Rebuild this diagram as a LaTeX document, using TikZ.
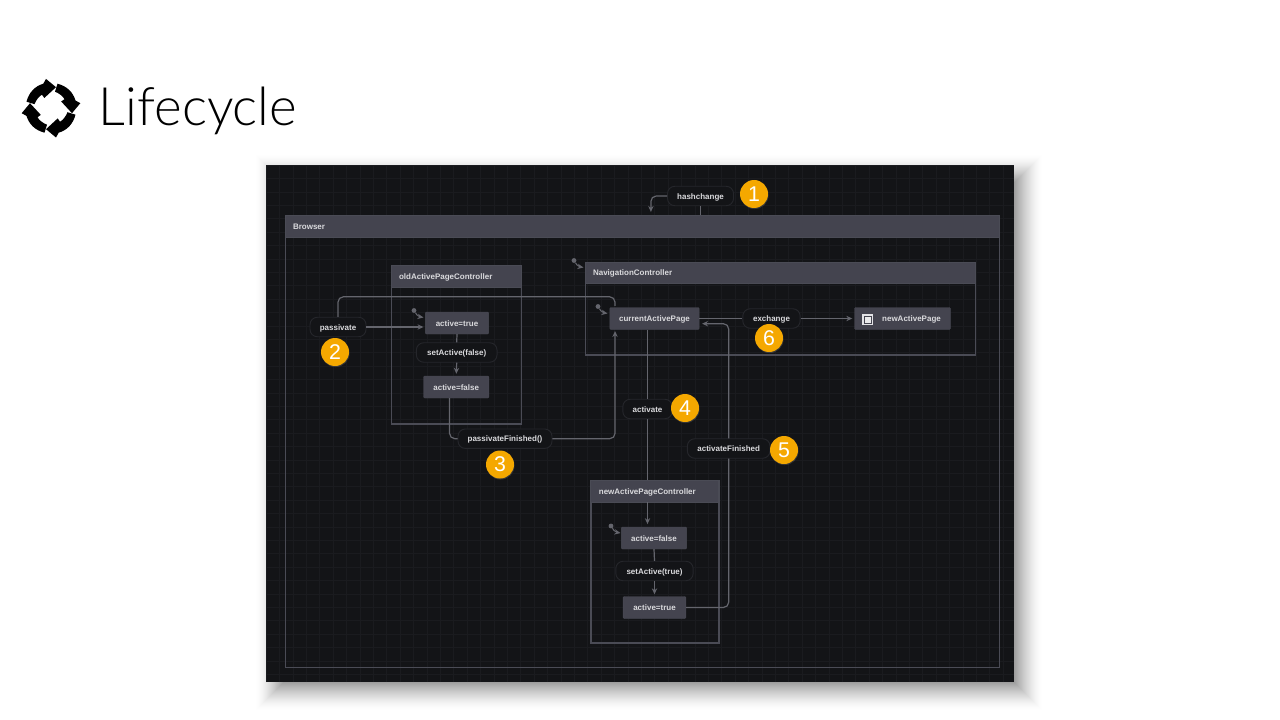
\documentclass[tikz,border=0pt]{standalone}
\usepackage{fontspec}
\setmainfont{Liberation Sans}
\newfontfamily\titlefont{Lato Light}
\usetikzlibrary{arrows.meta,shadows}
\definecolor{panel}{HTML}{131417}
\definecolor{gridc}{HTML}{1A1B1F}
\definecolor{headc}{HTML}{44444F}
\definecolor{edgec}{HTML}{4A4B55}
\definecolor{pillc}{HTML}{25262B}
\definecolor{wirec}{HTML}{64656D}
\definecolor{labelc}{HTML}{DADADD}
\definecolor{badgec}{HTML}{F5A800}

\begin{document}
\begin{tikzpicture}[
x=0.75pt,y=-0.75pt,
region/.style={draw=edgec, line width=0.8pt, inner sep=0pt},
head/.style={anchor=north west, fill=headc, draw=edgec, line width=0.6pt, font=\bfseries\fontsize{6}{7}\selectfont, text=labelc, inner xsep=6pt, inner ysep=0pt, align=left, text height=6pt, text depth=1.2pt},
box/.style={fill=headc, draw=edgec, line width=0.3pt, rounded corners=0.8pt, font=\bfseries\fontsize{6}{7}\selectfont, text=labelc, inner sep=0pt, minimum height=16.5pt, text height=6pt, text depth=1.2pt},
pill/.style={fill=panel, draw=pillc, line width=0.7pt, rounded corners=5.5pt, font=\bfseries\fontsize{6}{7}\selectfont, text=labelc, inner sep=0pt, minimum height=14.6pt, text height=6pt, text depth=1.2pt},
badge/.style={circle, fill=badgec, text=white, font=\fontsize{16}{18}\selectfont, inner sep=0pt, minimum size=21pt, drop shadow={shadow xshift=0.4pt, shadow yshift=-0.8pt, opacity=0.3}},
wire/.style={draw=wirec, line width=0.9pt, rounded corners=4pt},
arr/.style={-{Stealth[length=4.5pt,width=4pt]}},
dot/.style={circle, fill=wirec, inner sep=0pt, minimum size=3.6pt},
]
\useasboundingbox (0,0) rectangle (1280,720);

% title and icon
\node[anchor=west, inner sep=0pt, font=\titlefont\fontsize{39.7}{48}\selectfont] (title) at (98.5,111) {Lifecycle};
\foreach \ang in {0,90,180,270} {
  \fill[shift={(51,108.2)}, rotate=\ang] (-24.5,-6.5) .. controls (-22,-16) and (-16,-22) .. (-7.7,-24.5) -- (-5,-29.3) -- (5,-21) -- (-6.7,-10.2) -- (-9,-13.5) .. controls (-12,-12) and (-15,-8) .. (-16.5,-4) -- cycle;
}

% panel
\foreach \i in {0,...,35} {
  \pgfmathsetmacro\op{0.003+0.001*\i}
  \fill[black, opacity=\op] (256+\i,155+\i) rectangle (1042-\i,710-\i);
}
\fill[panel] (266,165) rectangle (1014,682);
\draw[gridc, line width=0.4pt, shift={(266,165)}, xstep=10.05pt, ystep=10.05pt] (0,0) grid (748,517);

% states
\node[region, minimum width=536pt, minimum height=339.5pt] (browser) at (642.5,441.5) {};
\node[head, minimum height=16.5pt, text width=524pt] (browserhead) at (browser.north west) {Browser};
\node[region, minimum width=98pt, minimum height=118.5pt] (oldctrl) at (456.5,345) {};
\node[head, minimum height=15.8pt, text width=86pt] (oldhead) at (oldctrl.north west) {oldActivePageController};
\node[region, minimum width=293pt, minimum height=69.7pt] (navctrl) at (780.5,308.5) {};
\node[head, minimum height=15.8pt, text width=281pt] (navhead) at (navctrl.north west) {NavigationController};
\node[region, minimum width=96pt, minimum height=121.5pt] (newctrl) at (655,562) {};
\node[head, minimum height=15.8pt, text width=84pt] (newhead) at (newctrl.north west) {newActivePageController};

\node[box, minimum width=47.5pt] (oldtrue) at (457,323) {active=true};
\node[box, minimum width=49pt] (oldfalse) at (456.2,387) {active=false};
\node[box, minimum width=67pt] (cur) at (654.5,318.5) {currentActivePage};
\node[box, minimum width=72pt] (newpage) at (902.5,318.5) {\hspace{13.5pt}newActivePage};
\node[box, minimum width=49pt] (newfalse) at (654,538) {active=false};
\node[box, minimum width=47pt] (newtrue) at (654.5,607.5) {active=true};
\node[fill=labelc!75, inner sep=0pt, minimum size=7.8pt] (finalouter) at (867.5,319.5) {};
\node[fill=labelc!55, draw=headc, line width=0.6pt, inner sep=0pt, minimum size=5.4pt] (finalinner) at (867.5,319.5) {};

% events
\node[pill, minimum width=49.5pt] (hash) at (700.5,196) {hashchange};
\node[pill, minimum width=42pt] (passivate) at (338,327) {passivate};
\node[pill, minimum width=60.5pt] (setfalse) at (456.7,352.5) {setActive(false)};
\node[pill, minimum width=70.5pt] (finished) at (505,438.7) {passivateFinished()};
\node[pill, minimum width=37pt] (activate) at (647.5,409) {activate};
\node[pill, minimum width=62pt] (actfin) at (728.7,448.5) {activateFinished};
\node[pill, minimum width=43pt] (exchange) at (771.5,318.5) {exchange};
\node[pill, minimum width=58pt] (settrue) at (654.5,571) {setActive(true)};

% badges
\node[badge] (b1) at (754,194) {1};
\node[badge] (b2) at (335,352) {2};
\node[badge] (b3) at (500,464.5) {3};
\node[badge] (b4) at (685,408) {4};
\node[badge] (b5) at (784,450) {5};
\node[badge] (b6) at (769,338) {6};

% transitions
\path[wire]
(hash.south) edge (hash.south |- browserhead.north)
(oldtrue.south) edge (setfalse.north)
(setfalse.south) edge[arr, shorten >=1.5pt] (oldfalse.north)
(passivate.east) edge[arr, shorten >=1.2pt] (passivate.east -| oldtrue.west)
(activate.north |- cur.south) edge (activate.north)
(activate.south) edge (activate.south |- newhead.north)
(activate.south |- newhead.south) edge[arr, shorten >=2pt] (activate.south |- newfalse.north)
(newfalse.south) edge (settrue.north)
(settrue.south) edge[arr, shorten >=1.5pt] (newtrue.north)
(cur.east) edge (exchange.west)
(exchange.east) edge[arr, shorten >=1.5pt] (newpage.west)
;
\draw[wire, arr, shorten >=2pt] (hash.west) -| ([xshift=6.4pt]browserhead.north);
\draw[wire, shorten >=1pt] (passivate.north) -- ++(0,-20) -| ([xshift=-29.6pt]cur.north);
\draw[wire] ([xshift=-5pt]oldfalse.south) |- (finished.west);
\draw[wire, arr, shorten >=1pt] (finished.east) -| ([xshift=-29.6pt]cur.south);
\draw[wire] (newtrue.east) -| (actfin.south);
\draw[wire, arr, shorten >=2pt] (actfin.north) |- ([yshift=-3.9pt]cur.east);

% initial markers
\foreach \nm/\px/\py in {nav/574/260.5,cur/598/306.5,old/414/310.5,new/611/526} {
  \node[dot] (init\nm) at (\px,\py) {};
  \draw[wire, arr, rounded corners=1.5pt, line width=0.8pt] (init\nm) -- ++(4,6) -- ++(5.5,1);
}
\end{tikzpicture}
\end{document}
